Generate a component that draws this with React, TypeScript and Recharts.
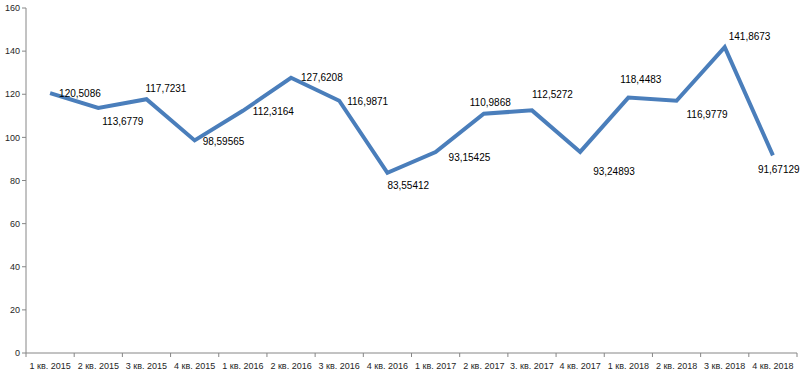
import React from 'react';
import { LineChart, Line, XAxis, YAxis, LabelList } from 'recharts';

const quarters = [
  '1 кв. 2015', '2 кв. 2015', '3 кв. 2015', '4 кв. 2015',
  '1 кв. 2016', '2 кв. 2016', '3 кв. 2016', '4 кв. 2016',
  '1 кв. 2017', '2 кв. 2017', '3. кв. 2017', '4 кв. 2017',
  '1 кв. 2018', '2 кв. 2018', '3 кв. 2018', '4 кв. 2018',
];
const values = [
  120.5086, 113.6779, 117.7231, 98.59565,
  112.3164, 127.6208, 116.9871, 83.55412,
  93.15425, 110.9868, 112.5272, 93.24893,
  118.4483, 116.9779, 141.8673, 91.67129,
];
const yTicks = [0, 20, 40, 60, 80, 100, 120, 140, 160];

// label placement (style only): offset of label's left edge / middle from the point
const labelOffsets: [number, number][] = [
  [9, 0], [4, 14], [-1, -11], [8, 1],
  [10, 1], [10, 0], [8, 1], [0, 13],
  [13, 5], [-14, -11], [0, -16], [13, 20],
  [-8, -18], [10, 14], [4, -11], [-15, 14],
];

const data = quarters.map((q, i) => ({ q, v: values[i] }));

const W = 807;
const H = 374;
const PLOT_LEFT = 26;
const PLOT_RIGHT = 797;
const N = quarters.length;
const HALF = (PLOT_RIGHT - PLOT_LEFT) / N / 2;
const FONT = 'Liberation Sans, Arial, sans-serif';

const XTick = (props: any) => {
  const { x, y, payload, index } = props;
  return (
    <g>
      <line x1={x - HALF} x2={x - HALF} y1={y - 8} y2={y - 4} stroke="#868686" />
      {index === N - 1 && (
        <line x1={x + HALF} x2={x + HALF} y1={y - 8} y2={y - 4} stroke="#868686" />
      )}
      <text x={x} y={y + 8} textAnchor="middle" fontSize={9} fill="#262626" fontFamily={FONT}>
        {payload.value}
      </text>
    </g>
  );
};

const ValueLabel = (props: any) => {
  const { x, y, value, index } = props;
  const [dx, dy] = labelOffsets[index] || [0, 0];
  return (
    <text
      x={x + dx}
      y={y + dy}
      dominantBaseline="central"
      textAnchor="start"
      fontSize={10}
      fill="#000"
      fontFamily={FONT}
    >
      {String(value).replace('.', ',')}
    </text>
  );
};

export default function App() {
  return (
    <div style={{ position: 'absolute', left: 0, top: 0, background: '#fff' }}>
      <LineChart
        width={W}
        height={H}
        data={data}
        margin={{ top: 8, right: W - PLOT_RIGHT, bottom: 0, left: 0 }}
      >
        <XAxis
          dataKey="q"
          interval={0}
          padding={{ left: HALF, right: HALF }}
          height={21}
          axisLine={{ stroke: '#868686' }}
          tickLine={false}
          tick={<XTick />}
        />
        <YAxis
          domain={[0, 160]}
          ticks={yTicks}
          width={PLOT_LEFT}
          axisLine={{ stroke: '#868686' }}
          tickLine={{ stroke: '#868686' }}
          tickSize={4}
          tick={{ fontSize: 9, fill: '#262626', fontFamily: FONT }}
        />
        <Line
          type="linear"
          dataKey="v"
          stroke="#4A7EBB"
          strokeWidth={4}
          dot={false}
          isAnimationActive={false}
          strokeLinejoin="miter"
        >
          <LabelList dataKey="v" content={<ValueLabel />} />
        </Line>
      </LineChart>
    </div>
  );
}
